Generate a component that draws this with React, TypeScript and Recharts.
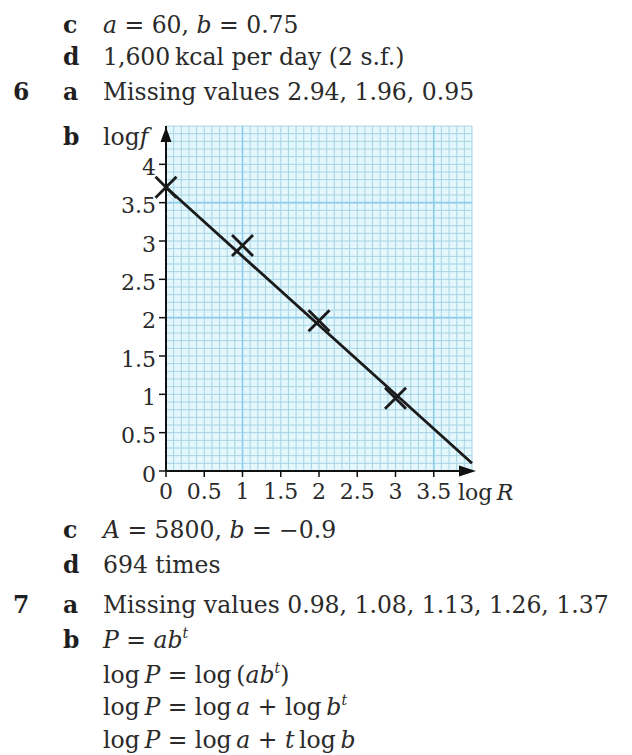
import React from "react";
import { CartesianGrid, ComposedChart, ReferenceDot, Scatter, XAxis, YAxis } from "recharts";

// plotted points (log R, log f) and the line of best fit
const LOG_R = [0, 1, 2, 3];
const LOG_F = [3.7, 2.94, 1.96, 0.95];
const FIT_R = [0, 4];
const FIT_F = [3.7, 0.1];

const X_TICKS = [0, 0.5, 1, 1.5, 2, 2.5, 3, 3.5];
const Y_TICKS = [0, 0.5, 1, 1.5, 2, 2.5, 3, 3.5, 4];

// graph paper: fine squares every 0.1, a few stronger lines
const FINE_X = Array.from({ length: 41 }, (_, i) => i / 10);
const FINE_Y = Array.from({ length: 46 }, (_, i) => i / 10);
const MAJOR_X = [1, 3.5];
const MAJOR_Y = [2, 3.5];

const points = LOG_R.map((x, i) => ({ x, y: LOG_F[i] }));
const fit = FIT_R.map((x, i) => ({ x, y: FIT_F[i] }));

const FONT = "'DejaVu Serif', serif";
const INK = "#2a2a2a";
const THIN = "\u2009";

const Cross = (p: any) => {
  const { cx, cy } = p;
  const s = 10.5;
  return (
    <g stroke="#1a1a1a" strokeWidth={2.8}>
      <line x1={cx - s} y1={cy - s} x2={cx + s} y2={cy + s} />
      <line x1={cx - s} y1={cy + s} x2={cx + s} y2={cy - s} />
    </g>
  );
};

const UpArrow = (p: any) => (
  <polygon points={`${p.cx},${p.cy + 1} ${p.cx - 5.5},${p.cy + 16} ${p.cx + 5.5},${p.cy + 16}`} fill="#111" />
);

const RightArrow = (p: any) => (
  <polygon points={`${p.cx + 4},${p.cy} ${p.cx - 13},${p.cy - 5.5} ${p.cx - 13},${p.cy + 5.5}`} fill="#111" />
);

const B = ({ children }: { children: React.ReactNode }) => (
  <tspan fontWeight="bold" fill="#1f1f1f">{children}</tspan>
);
const I = ({ children }: { children: React.ReactNode }) => <tspan fontStyle="italic">{children}</tspan>;
const Sup = ({ children }: { children: React.ReactNode }) => (
  <tspan fontStyle="italic" fontSize={14} dy={-10}>{children}</tspan>
);

function Row({ y, num, part, children }: { y: number; num?: string; part?: string; children?: React.ReactNode }) {
  return (
    <g>
      {num && <text x={13} y={y}><B>{num}</B></text>}
      {part && <text x={63} y={y}><B>{part}</B></text>}
      {children && <text x={103} y={y}>{children}</text>}
    </g>
  );
}

export default function App() {
  return (
    <div style={{ position: "absolute", left: 0, top: 0, width: 632, height: 755, background: "#fff" }}>
      <ComposedChart
        width={632}
        height={520}
        margin={{ top: 126, right: 160, bottom: 9, left: 106 }}
      >
        <CartesianGrid
          verticalValues={FINE_X}
          horizontalValues={FINE_Y}
          stroke="#a6d4e4"
          strokeWidth={1}
          fill="#e4f7fd"
          fillOpacity={1}
        />
        <CartesianGrid verticalValues={MAJOR_X} horizontalValues={MAJOR_Y} stroke="#8ccdea" strokeWidth={1.6} />
        <XAxis
          type="number"
          dataKey="x"
          domain={[0, 4]}
          ticks={X_TICKS}
          interval={0}
          height={40}
          axisLine={{ stroke: "#111", strokeWidth: 2 }}
          tickLine={{ stroke: "#111", strokeWidth: 1.5 }}
          tickSize={6}
          tickMargin={6}
          tick={{ fill: INK, fontSize: 22, fontFamily: FONT }}
        />
        <YAxis
          type="number"
          dataKey="y"
          domain={[0, 4.5]}
          ticks={Y_TICKS}
          interval={0}
          width={60}
          axisLine={{ stroke: "#111", strokeWidth: 2 }}
          tickLine={{ stroke: "#111", strokeWidth: 1.5 }}
          tickSize={7}
          tickMargin={3}
          tick={{ fill: INK, fontSize: 22, fontFamily: FONT, dy: 3 }}
        />
        <Scatter
          data={fit}
          line={{ stroke: "#1a1a1a", strokeWidth: 2.8 }}
          shape={() => <g />}
          isAnimationActive={false}
        />
        <Scatter data={points} shape={Cross} isAnimationActive={false} />
        <ReferenceDot x={0} y={4.5} shape={UpArrow} ifOverflow="visible" />
        <ReferenceDot x={4} y={0} shape={RightArrow} ifOverflow="visible" />
      </ComposedChart>

      <svg
        width={632}
        height={755}
        style={{ position: "absolute", left: 0, top: 0, pointerEvents: "none" }}
        fontFamily={FONT}
        fontSize={23.5}
        fill={INK}
      >
        <Row y={33} part="c">
          <I>a</I> = 60, <I>b</I> = 0.75
        </Row>
        <Row y={65} part="d">1,600{THIN}kcal per day (2 s.f.)</Row>
        <Row y={100} num="6" part="a">Missing values 2.94, 1.96, 0.95</Row>
        <Row y={145} part="b">
          log<I>f</I>
        </Row>
        <text x={458} y={500} fontSize={22}>
          log{THIN}<I>R</I>
        </text>
        <Row y={538} part="c">
          <I>A</I> = 5800, <I>b</I> = −0.9
        </Row>
        <Row y={573} part="d">694 times</Row>
        <Row y={613} num="7" part="a">Missing values 0.98, 1.08, 1.13, 1.26, 1.37</Row>
        <Row y={648} part="b">
          <I>P</I> = <I>ab</I><Sup>t</Sup>
        </Row>
        <Row y={683}>
          log{THIN}<I>P</I> = log{THIN}(<I>ab</I><Sup>t</Sup><tspan dy={10}>)</tspan>
        </Row>
        <Row y={715}>
          log{THIN}<I>P</I> = log{THIN}<I>a</I> + log{THIN}<I>b</I><Sup>t</Sup>
        </Row>
        <Row y={748}>
          log{THIN}<I>P</I> = log{THIN}<I>a</I> + <I>t</I>{THIN}log{THIN}<I>b</I>
        </Row>
      </svg>
    </div>
  );
}
